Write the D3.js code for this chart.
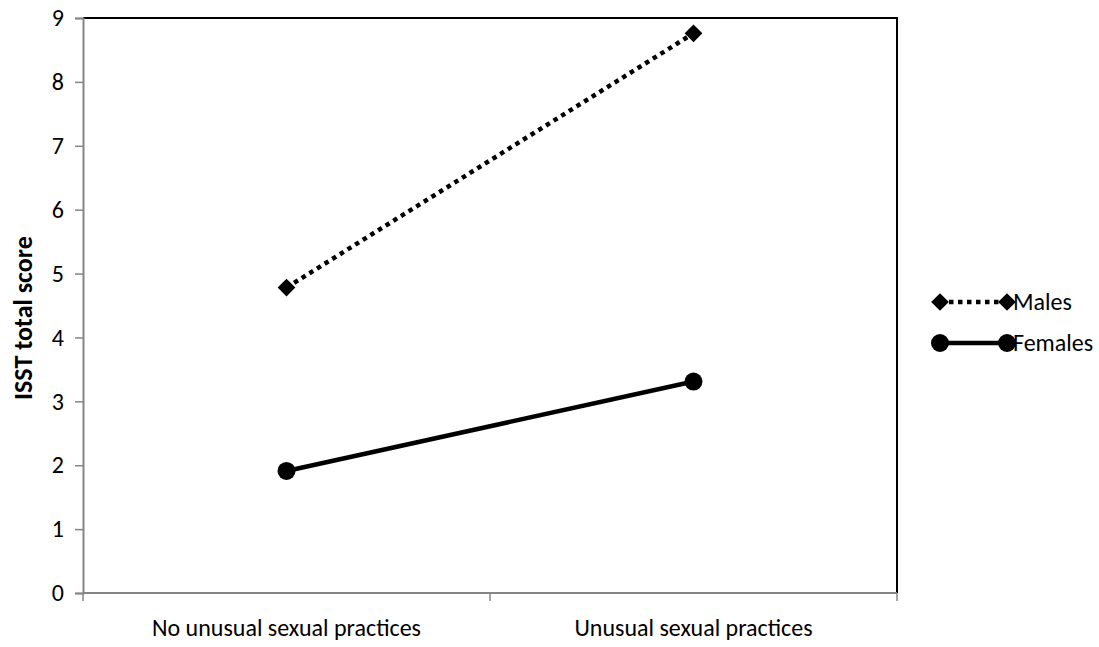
<!DOCTYPE html>
<html>
<head>
<meta charset="utf-8">
<script src="https://cdn.jsdelivr.net/npm/d3@7"></script>
<style>
  body { margin: 0; background: #fff; }
  text { font-family: Carlito, Lato, "Open Sans", sans-serif; }
</style>
</head>
<body>
<svg id="chart" width="1099" height="647"></svg>
<script>
// chart data
const categories = ['No unusual sexual practices', 'Unusual sexual practices'];
const males = [4.78, 8.76];
const females = [1.91, 3.31];
const yTicks = [0, 1, 2, 3, 4, 5, 6, 7, 8, 9];
const seriesNames = ['Males', 'Females'];

const width = 1099, height = 647;
const margin = { top: 18, right: 202, bottom: 54, left: 83 };
const fontSize = 24;

const svg = d3.select('#chart');

// scales
const x = d3.scaleBand()
  .domain(categories)
  .range([margin.left, width - margin.right]);

const y = d3.scaleLinear()
  .domain([0, 9])
  .range([height - margin.bottom, margin.top]);

// plot border on top and right (black)
svg.append('path')
  .attr('d', `M${margin.left},${margin.top}H${width - margin.right}V${height - margin.bottom}`)
  .attr('fill', 'none')
  .attr('stroke', '#000')
  .attr('stroke-width', 2);

// y axis
const yAxis = svg.append('g')
  .attr('transform', `translate(${margin.left},0)`)
  .call(d3.axisLeft(y).tickValues(yTicks).tickSize(8).tickPadding(11));
yAxis.attr('font-size', fontSize).attr('font-family', null);
yAxis.select('.domain').attr('stroke', '#868686').attr('stroke-width', 2);
yAxis.selectAll('.tick line').attr('stroke', '#868686').attr('stroke-width', 1.5);
yAxis.selectAll('.tick text').attr('fill', '#000');

// x axis: ticks at band edges, labels at band centres
const xAxisG = svg.append('g')
  .attr('transform', `translate(0,${height - margin.bottom})`);
xAxisG.append('line')
  .attr('x1', margin.left).attr('x2', width - margin.right)
  .attr('stroke', '#868686').attr('stroke-width', 2);
const edges = [x(categories[0]), x(categories[1]), x(categories[1]) + x.bandwidth()];
xAxisG.selectAll('.edge')
  .data(edges)
  .enter().append('line')
  .attr('x1', d => d).attr('x2', d => d)
  .attr('y1', 0).attr('y2', 8)
  .attr('stroke', '#868686').attr('stroke-width', 1.5);
xAxisG.selectAll('.lbl')
  .data(categories)
  .enter().append('text')
  .attr('x', d => x(d) + x.bandwidth() / 2)
  .attr('y', 43)
  .attr('text-anchor', 'middle')
  .attr('font-size', fontSize)
  .text(d => d);

// y axis title
svg.append('text')
  .attr('transform', `translate(32,318) rotate(-90)`)
  .attr('text-anchor', 'middle')
  .attr('font-size', 26)
  .attr('font-weight', 'bold')
  .text('ISST total score');

const cx = d => x(d) + x.bandwidth() / 2;
const line = d3.line().x(d => cx(d.cat)).y(d => y(d.v));
const maleData = categories.map((c, i) => ({ cat: c, v: males[i] }));
const femaleData = categories.map((c, i) => ({ cat: c, v: females[i] }));

const diamond = d3.symbol().type(d3.symbolDiamond2).size(200);

// males: dotted line with diamonds
svg.append('path')
  .datum(maleData)
  .attr('d', line)
  .attr('fill', 'none')
  .attr('stroke', '#000')
  .attr('stroke-width', 4.5)
  .attr('stroke-dasharray', '4.5,4.5');
svg.selectAll('.mpt')
  .data(maleData)
  .enter().append('path')
  .attr('d', diamond)
  .attr('transform', d => `translate(${cx(d.cat)},${y(d.v)})`)
  .attr('fill', '#000');

// females: solid line with circles
svg.append('path')
  .datum(femaleData)
  .attr('d', line)
  .attr('fill', 'none')
  .attr('stroke', '#000')
  .attr('stroke-width', 4.5);
svg.selectAll('.fpt')
  .data(femaleData)
  .enter().append('circle')
  .attr('cx', d => cx(d.cat))
  .attr('cy', d => y(d.v))
  .attr('r', 9)
  .attr('fill', '#000');

// legend
const legend = svg.append('g').attr('transform', 'translate(940,302)');
const lx = [0, 67];
// males entry
legend.append('line')
  .attr('x1', lx[0]).attr('x2', lx[1])
  .attr('stroke', '#000').attr('stroke-width', 4.5)
  .attr('stroke-dasharray', '4.5,4.5');
lx.forEach(px => legend.append('path')
  .attr('d', diamond)
  .attr('transform', `translate(${px},0)`)
  .attr('fill', '#000'));
legend.append('text')
  .attr('x', 73).attr('y', 8)
  .attr('font-size', fontSize)
  .text(seriesNames[0]);
// females entry
const fl = legend.append('g').attr('transform', 'translate(0,41)');
fl.append('line')
  .attr('x1', lx[0]).attr('x2', lx[1])
  .attr('stroke', '#000').attr('stroke-width', 4.5);
lx.forEach(px => fl.append('circle')
  .attr('cx', px).attr('r', 9).attr('fill', '#000'));
fl.append('text')
  .attr('x', 73).attr('y', 8)
  .attr('font-size', fontSize)
  .text(seriesNames[1]);
</script>
</body>
</html>
